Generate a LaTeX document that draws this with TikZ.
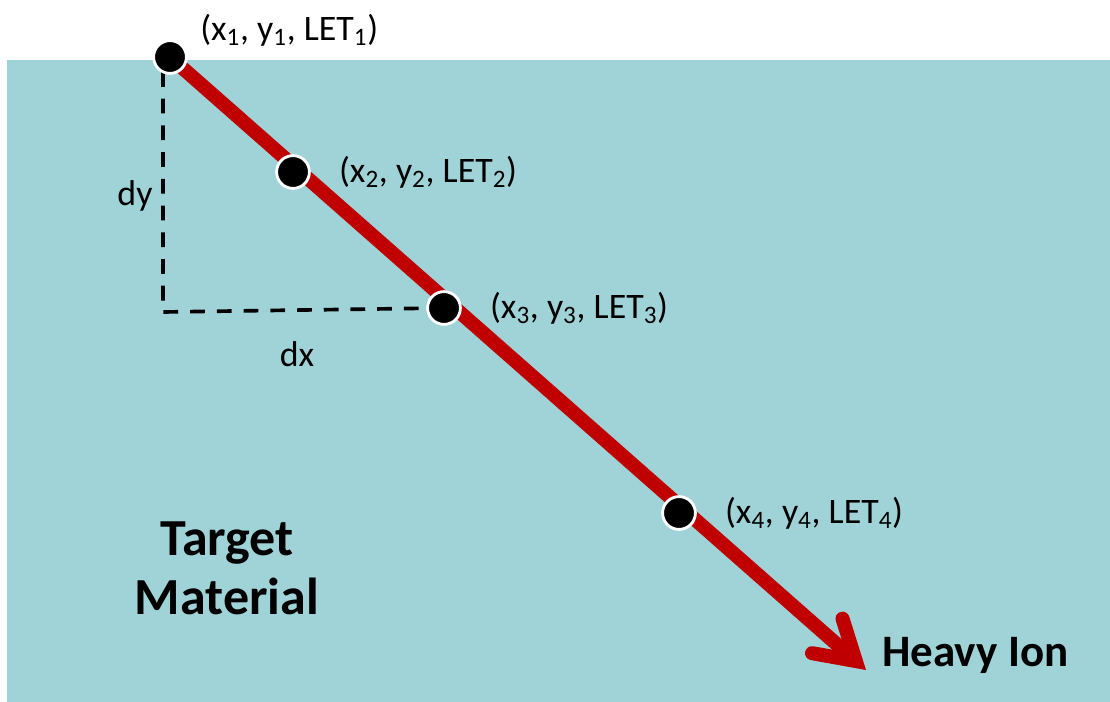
\documentclass[tikz,border=0pt]{standalone}
\usepackage{fontspec}
\setmainfont{Carlito}
\usepackage{tikz}
\usetikzlibrary{arrows.meta,positioning}
\definecolor{target}{HTML}{9FD3D7}
\definecolor{ion}{HTML}{C00000}

\begin{document}
\begin{tikzpicture}[x=0.025cm,y=-0.025cm,
  dot/.style={circle,fill=black,draw=white,line width=2pt,
              minimum size=0.82cm,inner sep=0pt},
  lbl/.style={inner sep=0pt,font=\fontsize{25.5}{28}\selectfont},
  big/.style={inner sep=0pt,align=center,font=\fontsize{37}{42}\selectfont\bfseries},
  track/.style={-{Straight Barb[length=0.95cm,width=1.15cm,line cap=round]},
                line width=10pt,ion},
  guide/.style={line width=2.6pt,dash pattern=on 10.5pt off 8.5pt}
]
\useasboundingbox (0,0) rectangle (1110,702);
\fill[target] (7,60) rectangle (1110,702);

\coordinate (c1) at (170,57);
\coordinate (c2) at (293,172);
\coordinate (c3) at (444,308);
\coordinate (c4) at (679,513);
\coordinate (tip) at (866,670);
\coordinate (top) at (163,72);
\coordinate (corner) at (163,312);

\draw[guide] (top) -- (corner) -- (c3);
\draw[track] (c1) -- (tip);

\node[dot] (p1) at (c1) {};
\node[dot] (p2) at (c2) {};
\node[dot] (p3) at (c3) {};
\node[dot] (p4) at (c4) {};

\node[lbl,anchor=west] (l1) at (200,30) {(x\textsubscript{1}, y\textsubscript{1}, LET\textsubscript{1})};
\node[lbl,right=0.7cm of p2] (l2) {(x\textsubscript{2}, y\textsubscript{2}, LET\textsubscript{2})};
\node[lbl,right=0.7cm of p3] (l3) {(x\textsubscript{3}, y\textsubscript{3}, LET\textsubscript{3})};
\node[lbl,right=0.7cm of p4] (l4) {(x\textsubscript{4}, y\textsubscript{4}, LET\textsubscript{4})};

\node[lbl] (dy) at (135,196) {dy};
\node[lbl] (dx) at (297,354) {dx};

\node[big] (mat) at (227,568) {Target\\Material};
\node[big,anchor=west,font=\fontsize{32}{36}\selectfont\bfseries] (heavy) at (882,655) {Heavy Ion};
\end{tikzpicture}
\end{document}
